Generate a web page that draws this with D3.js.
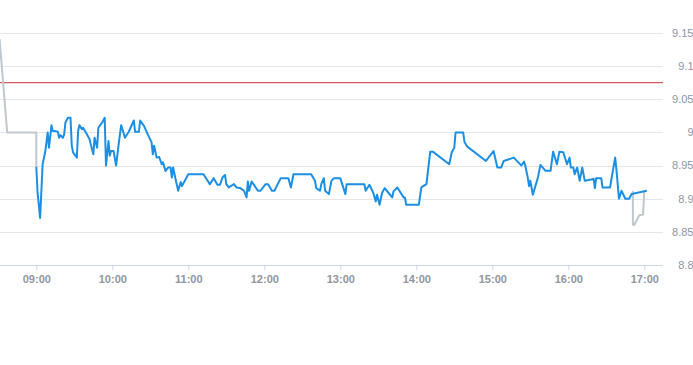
<!DOCTYPE html>
<html>
<head>
<meta charset="utf-8">
<script src="https://cdn.jsdelivr.net/npm/d3@7/dist/d3.min.js"></script>
<style>
  html, body { margin: 0; padding: 0; background: #fff; }
  svg { display: block; }
</style>
</head>
<body>
<svg id="chart" width="693" height="365"></svg>
<script>
// ---- data ----
const sessionTimes = ["09:00","09:01","09:03","09:05","09:07","09:08","09:09","09:10","09:12","09:13","09:15","09:17","09:18","09:19","09:21","09:22","09:23","09:25","09:27","09:28","09:29","09:32","09:33","09:34","09:36","09:37","09:40","09:42","09:43","09:45","09:46","09:48","09:49","09:52","09:54","09:55","09:57","09:58","09:59","10:01","10:03","10:05","10:07","10:10","10:13","10:17","10:18","10:21","10:22","10:25","10:28","10:31","10:32","10:33","10:35","10:37","10:39","10:40","10:42","10:44","10:46","10:47","10:48","10:50","10:52","10:54","10:55","11:00","11:12","11:17","11:20","11:23","11:25","11:27","11:29","11:30","11:32","11:36","11:38","11:41","11:44","11:46","11:47","11:48","11:50","11:55","11:57","12:01","12:03","12:06","12:08","12:13","12:19","12:21","12:23","12:37","12:40","12:41","12:44","12:45","12:47","12:48","12:51","12:53","12:55","13:00","13:04","13:05","13:19","13:20","13:23","13:26","13:28","13:29","13:31","13:33","13:35","13:38","13:41","13:42","13:45","13:50","13:51","13:52","14:02","14:04","14:08","14:11","14:13","14:26","14:28","14:30","14:31","14:37","14:38","14:40","14:55","15:01","15:04","15:07","15:09","15:17","15:23","15:25","15:26","15:28","15:29","15:30","15:32","15:36","15:38","15:42","15:46","15:48","15:51","15:53","15:56","15:59","16:01","16:02","16:04","16:05","16:07","16:09","16:11","16:13","16:18","16:20","16:21","16:22","16:26","16:27","16:33","16:34","16:37","16:38","16:40","16:42","16:45","16:48","16:50","17:02"];
const sessionPrices = [8.948,8.909,8.871,8.952,8.970,8.985,9.000,8.977,9.011,9.002,9.002,9.001,8.992,8.996,8.992,8.997,9.015,9.022,9.022,8.980,8.970,8.962,9.002,9.011,9.005,9.007,8.997,8.990,8.982,8.967,8.992,8.977,9.007,9.015,9.022,8.950,8.987,8.965,8.972,8.972,8.950,8.982,9.011,8.992,9.001,9.018,9.001,9.001,9.018,9.010,8.997,8.985,8.967,8.980,8.962,8.963,8.952,8.955,8.942,8.947,8.947,8.932,8.947,8.929,8.912,8.925,8.919,8.937,8.937,8.922,8.931,8.921,8.921,8.932,8.936,8.922,8.917,8.922,8.917,8.916,8.912,8.902,8.926,8.912,8.926,8.912,8.912,8.922,8.922,8.912,8.912,8.931,8.931,8.917,8.937,8.937,8.927,8.916,8.912,8.922,8.931,8.912,8.907,8.927,8.931,8.931,8.907,8.922,8.922,8.912,8.921,8.909,8.896,8.906,8.891,8.909,8.916,8.909,8.902,8.911,8.917,8.902,8.902,8.891,8.891,8.917,8.922,8.971,8.971,8.952,8.970,8.977,9.000,9.000,8.986,8.979,8.957,8.972,8.947,8.947,8.957,8.962,8.950,8.956,8.950,8.932,8.919,8.927,8.906,8.932,8.951,8.942,8.942,8.971,8.952,8.971,8.970,8.952,8.962,8.947,8.947,8.937,8.947,8.927,8.947,8.927,8.929,8.930,8.916,8.931,8.931,8.917,8.917,8.929,8.962,8.944,8.900,8.912,8.900,8.900,8.907,8.912];

const preTimes = ["08:31","08:37","09:00","09:00"];
const prePrices = [9.141,9.000,9.000,8.948];

const postTimes = ["16:51","16:51","16:52","16:56","16:59","17:00"];
const postPrices = [8.912,8.861,8.860,8.875,8.876,8.911];

const refPrice = 9.075;
const yTicks = [8.8,8.85,8.9,8.95,9.0,9.05,9.1,9.15];
const yTickLabels = ["8.8","8.85","8.9","8.95","9","9.05","9.1","9.15"];
const xTickTimes = ["09:00","10:00","11:00","12:00","13:00","14:00","15:00","16:00","17:00"];

// ---- drawing ----
const parse = d3.timeParse("%H:%M");
const svg = d3.select("#chart");
const plotLeft = 0, plotRight = 663, plotTop = 33, plotBottom = 265;

const x = d3.scaleTime()
  .domain([parse("09:00"), parse("17:00")])
  .range([36.3, 644.3]);
const y = d3.scaleLinear().domain([8.8, 9.15]).range([plotBottom, plotTop]);

const font = "'Liberation Sans', Arial, sans-serif";
const labelColor = "#8e96a2";

// gridlines
svg.append("g").selectAll("line")
  .data(yTicks.filter(v => v > 8.8))
  .join("line")
  .attr("x1", plotLeft).attr("x2", plotRight)
  .attr("y1", d => Math.round(y(d)) + 0.5).attr("y2", d => Math.round(y(d)) + 0.5)
  .attr("stroke", "#e6e6e6").attr("stroke-width", 1);

// y labels (right side)
svg.append("g").selectAll("text")
  .data(yTicks)
  .join("text")
  .attr("x", 693.5)
  .attr("y", d => y(d))
  .attr("dy", "0.35em")
  .attr("text-anchor", "end")
  .attr("font-family", font)
  .attr("font-size", 11)
  .attr("fill", labelColor)
  .text((d, i) => yTickLabels[i]);

// x axis
const xAxis = d3.axisBottom(x)
  .tickValues(xTickTimes.map(parse))
  .tickFormat(d3.timeFormat("%H:%M"))
  .tickSize(5).tickSizeOuter(0);
const gx = svg.append("g")
  .attr("transform", `translate(0,${plotBottom + 0.5})`)
  .call(xAxis);
gx.select(".domain").remove();
gx.selectAll(".tick line").attr("stroke", "#ccd6eb");
gx.selectAll(".tick text")
  .attr("font-family", font)
  .attr("font-size", 11)
  .attr("font-weight", "bold")
  .attr("fill", labelColor)
  .attr("y", 10);
svg.append("line")
  .attr("x1", plotLeft).attr("x2", plotRight)
  .attr("y1", plotBottom + 0.5).attr("y2", plotBottom + 0.5)
  .attr("stroke", "#ccd6eb").attr("stroke-width", 1);

// reference line
svg.append("line")
  .attr("x1", plotLeft).attr("x2", plotRight)
  .attr("y1", y(refPrice)).attr("y2", y(refPrice))
  .attr("stroke", "#cc3333").attr("stroke-width", 1);

const line = d3.line().x(d => x(d[0])).y(d => y(d[1]));
const zip = (ts, ps) => ts.map((t, i) => [parse(t), ps[i]]);

svg.append("path")
  .datum(zip(preTimes, prePrices))
  .attr("d", line).attr("fill", "none")
  .attr("stroke", "#bfc7cf").attr("stroke-width", 2).attr("stroke-linejoin", "round");

svg.append("path")
  .datum(zip(postTimes, postPrices))
  .attr("d", line).attr("fill", "none")
  .attr("stroke", "#bfc7cf").attr("stroke-width", 2).attr("stroke-linejoin", "round");

svg.append("path")
  .datum(zip(sessionTimes, sessionPrices))
  .attr("d", line).attr("fill", "none")
  .attr("stroke", "#1b8fe4").attr("stroke-width", 2).attr("stroke-linejoin", "round");
</script>
</body>
</html>
